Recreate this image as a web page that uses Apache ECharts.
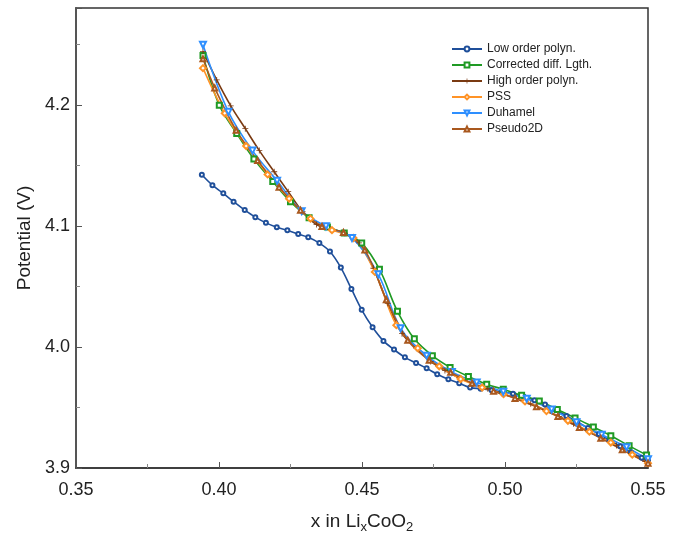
<!DOCTYPE html>
<html>
<head>
<meta charset="utf-8">
<script src="https://cdn.jsdelivr.net/npm/echarts@6/dist/echarts.min.js"></script>
<style>
  html, body { margin: 0; padding: 0; background: #fff; }
  #chart { width: 682px; height: 534px; }
</style>
</head>
<body>
<div id="chart"></div>
<script>
// 数据
const seriesNames = ['Low order polyn.', 'Corrected diff. Lgth.', 'High order polyn.', 'PSS', 'Duhamel', 'Pseudo2D'];

const lowX = [0.3940, 0.3977, 0.4015, 0.4051, 0.4090, 0.4127, 0.4164, 0.4202, 0.4239, 0.4277,
              0.4312, 0.4351, 0.4388, 0.4426, 0.4463, 0.4499, 0.4537, 0.4575, 0.4612, 0.4650,
              0.4689, 0.4726, 0.4763, 0.4802, 0.4840, 0.4878, 0.4915, 0.4953, 0.4990, 0.5028,
              0.5065, 0.5103, 0.5140, 0.5178, 0.5215, 0.5253, 0.5290, 0.5328, 0.5365, 0.5403,
              0.5440, 0.5478, 0.5500];
const lowY = [4.1422, 4.1336, 4.1269, 4.1200, 4.1131, 4.1072, 4.1025, 4.0989, 4.0964, 4.0933,
              4.0906, 4.0858, 4.0789, 4.0656, 4.0479, 4.0307, 4.0163, 4.0050, 3.9978, 3.9914,
              3.9867, 3.9823, 3.9775, 3.9733, 3.9700, 3.9664, 3.9655, 3.9643, 3.9628, 3.9614,
              3.9590, 3.9560, 3.9525, 3.9480, 3.9430, 3.9380, 3.9330, 3.9280, 3.9230, 3.9180,
              3.9130, 3.9085, 3.9060];

const corrX = [0.3944, 0.4001, 0.4062, 0.4122, 0.4188, 0.4250, 0.4315, 0.4379, 0.4438, 0.4499,
               0.4561, 0.4624, 0.4683, 0.4746, 0.4808, 0.4872, 0.4936, 0.4994, 0.5058, 0.5120,
               0.5183, 0.5245, 0.5309, 0.5370, 0.5434, 0.5495];
const corrY = [4.2408, 4.1997, 4.1764, 4.1553, 4.1367, 4.1200, 4.1067, 4.0990, 4.0942, 4.0858,
               4.0642, 4.0294, 4.0067, 3.9928, 3.9831, 3.9756, 3.9692, 3.9650, 3.9600, 3.9553,
               3.9483, 3.9414, 3.9339, 3.9267, 3.9183, 3.9108];

const highX = [0.3944, 0.3992, 0.4041, 0.4092, 0.4141, 0.4193, 0.4242, 0.4292, 0.4341, 0.4390,
               0.4440, 0.4490, 0.4540, 0.4590, 0.4640, 0.4690, 0.4740, 0.4790, 0.4840, 0.4890,
               0.4940, 0.4990, 0.5040, 0.5090, 0.5140, 0.5190, 0.5240, 0.5290, 0.5340, 0.5390,
               0.5440, 0.5490, 0.5500];
const highY = [4.2442, 4.2206, 4.1992, 4.1803, 4.1622, 4.1447, 4.1283, 4.1117, 4.1011, 4.0970,
               4.0940, 4.0860, 4.0650, 4.0360, 4.0110, 3.9990, 3.9880, 3.9805, 3.9745, 3.9695,
               3.9655, 3.9615, 3.9575, 3.9530, 3.9480, 3.9425, 3.9365, 3.9305, 3.9245, 3.9185,
               3.9120, 3.9055, 3.9040];

const pssX = [0.3944, 0.4020, 0.4095, 0.4170, 0.4245, 0.4320, 0.4395, 0.4470, 0.4545, 0.4620,
              0.4695, 0.4770, 0.4845, 0.4920, 0.4995, 0.5070, 0.5145, 0.5220, 0.5295, 0.5370,
              0.5445, 0.5500];
const pssY = [4.2303, 4.1930, 4.1660, 4.1425, 4.1225, 4.1060, 4.0965, 4.0900, 4.0620, 4.0180,
              3.9990, 3.9840, 3.9735, 3.9665, 3.9610, 3.9550, 3.9470, 3.9390, 3.9300, 3.9210,
              3.9110, 3.9040];

const duhX = [0.3944, 0.4033, 0.4117, 0.4203, 0.4289, 0.4374, 0.4465, 0.4557, 0.4635, 0.4726,
              0.4814, 0.4901, 0.4994, 0.5076, 0.5163, 0.5250, 0.5338, 0.5425, 0.5500];
const duhY = [4.2497, 4.1942, 4.1622, 4.1372, 4.1122, 4.0997, 4.0900, 4.0600, 4.0155, 3.9928,
              3.9794, 3.9706, 3.9630, 3.9572, 3.9483, 3.9378, 3.9275, 3.9172, 3.9072];

const p2dX = [0.3944, 0.3985, 0.4060, 0.4135, 0.4210, 0.4285, 0.4360, 0.4435, 0.4510, 0.4585,
              0.4660, 0.4735, 0.4810, 0.4885, 0.4960, 0.5035, 0.5110, 0.5185, 0.5260, 0.5335,
              0.5410, 0.5500];
const p2dY = [4.2380, 4.2140, 4.1790, 4.1540, 4.1320, 4.1130, 4.0995, 4.0945, 4.0800, 4.0390,
              4.0055, 3.9890, 3.9790, 3.9700, 3.9635, 3.9575, 3.9505, 3.9425, 3.9335, 3.9245,
              3.9150, 3.9040];

const xTicks = [0.35, 0.40, 0.45, 0.50, 0.55];
const yTicks = [3.9, 4.0, 4.1, 4.2];

const zip = (xs, ys) => xs.map((x, i) => [x, ys[i]]);

const crossPath = 'path://M4,0h1.4v4.3h4.3v1.4h-4.3v4.3h-1.4v-4.3h-4.3v-1.4h4.3z';

function makeSeries(name, xs, ys, color, symbol, size, extra) {
    return Object.assign({
        name: name,
        type: 'line',
        data: zip(xs, ys),
        smooth: 0.35,
        symbol: symbol,
        symbolSize: size,
        lineStyle: { color: color, width: 1.6 },
        itemStyle: { color: color, borderColor: color, borderWidth: 0.9 }
    }, extra || {});
}

const chart = echarts.init(document.getElementById('chart'));
const font = '"Liberation Sans", Arial, sans-serif';

const option = {
    animation: false,
    backgroundColor: '#fff',
    grid: {
        left: 76, right: 34, top: 8, bottom: 66,
        outerBoundsMode: 'none',
        show: true, borderColor: '#333', borderWidth: 1.5
    },
    legend: {
        orient: 'vertical',
        left: 446,
        top: 38,
        itemWidth: 30,
        itemHeight: 6,
        itemGap: 4,
        textStyle: { fontFamily: font, fontSize: 12, color: '#222' },
        data: seriesNames
    },
    xAxis: {
        type: 'value',
        min: 0.35, max: 0.55, interval: 0.05,
        name: '{a|x in Li}{s|x}{a|CoO}{s|2}',
        nameLocation: 'middle',
        nameGap: 41,
        nameTextStyle: {
            rich: {
                a: { fontFamily: font, fontSize: 19, color: '#222' },
                s: { fontFamily: font, fontSize: 13, color: '#222', padding: [12, 0, 0, 0] }
            }
        },
        axisLine: { lineStyle: { color: '#333', width: 1.5 } },
        axisTick: { inside: true, length: 6, lineStyle: { color: '#555' } },
        minorTick: { show: true, splitNumber: 2, length: 4, lineStyle: { color: '#888' } },
        axisLabel: {
            fontFamily: font, fontSize: 18, color: '#222', margin: 13,
            formatter: v => xTicks.some(t => Math.abs(t - v) < 1e-6) ? v.toFixed(2) : ''
        },
        splitLine: { show: false }
    },
    yAxis: {
        type: 'value',
        min: 3.9, max: 4.28, interval: 0.1,
        name: 'Potential (V)',
        nameLocation: 'middle',
        nameGap: 35,
        nameTextStyle: { fontFamily: font, fontSize: 19, color: '#222' },
        axisLine: { show: true, lineStyle: { color: '#555', width: 2 } },
        axisTick: { show: true, inside: true, length: 6, lineStyle: { color: '#555' } },
        minorTick: { show: true, splitNumber: 2, length: 4, lineStyle: { color: '#888' } },
        axisLabel: {
            fontFamily: font, fontSize: 18, color: '#222', margin: 6,
            showMaxLabel: false,
            formatter: v => yTicks.some(t => Math.abs(t - v) < 1e-6) ? v.toFixed(1) : ''
        },
        splitLine: { show: false }
    },
    series: [
        makeSeries(seriesNames[0], lowX, lowY, '#1f4f9a', 'emptyCircle', 4),
        makeSeries(seriesNames[1], corrX, corrY, '#1f9a24', 'emptyRect', 5),
        makeSeries(seriesNames[2], highX, highY, '#7a3a12', crossPath, 6, {
            itemStyle: { color: '#7a3a12', borderWidth: 0 }
        }),
        makeSeries(seriesNames[3], pssX, pssY, '#ff9326', 'emptyDiamond', 6),
        makeSeries(seriesNames[4], duhX, duhY, '#2e8fff', 'emptyTriangle', 6, { symbolRotate: 180 }),
        makeSeries(seriesNames[5], p2dX, p2dY, '#a9581e', 'emptyTriangle', 5)
    ]
};
chart.setOption(option);
</script>
</body>
</html>
